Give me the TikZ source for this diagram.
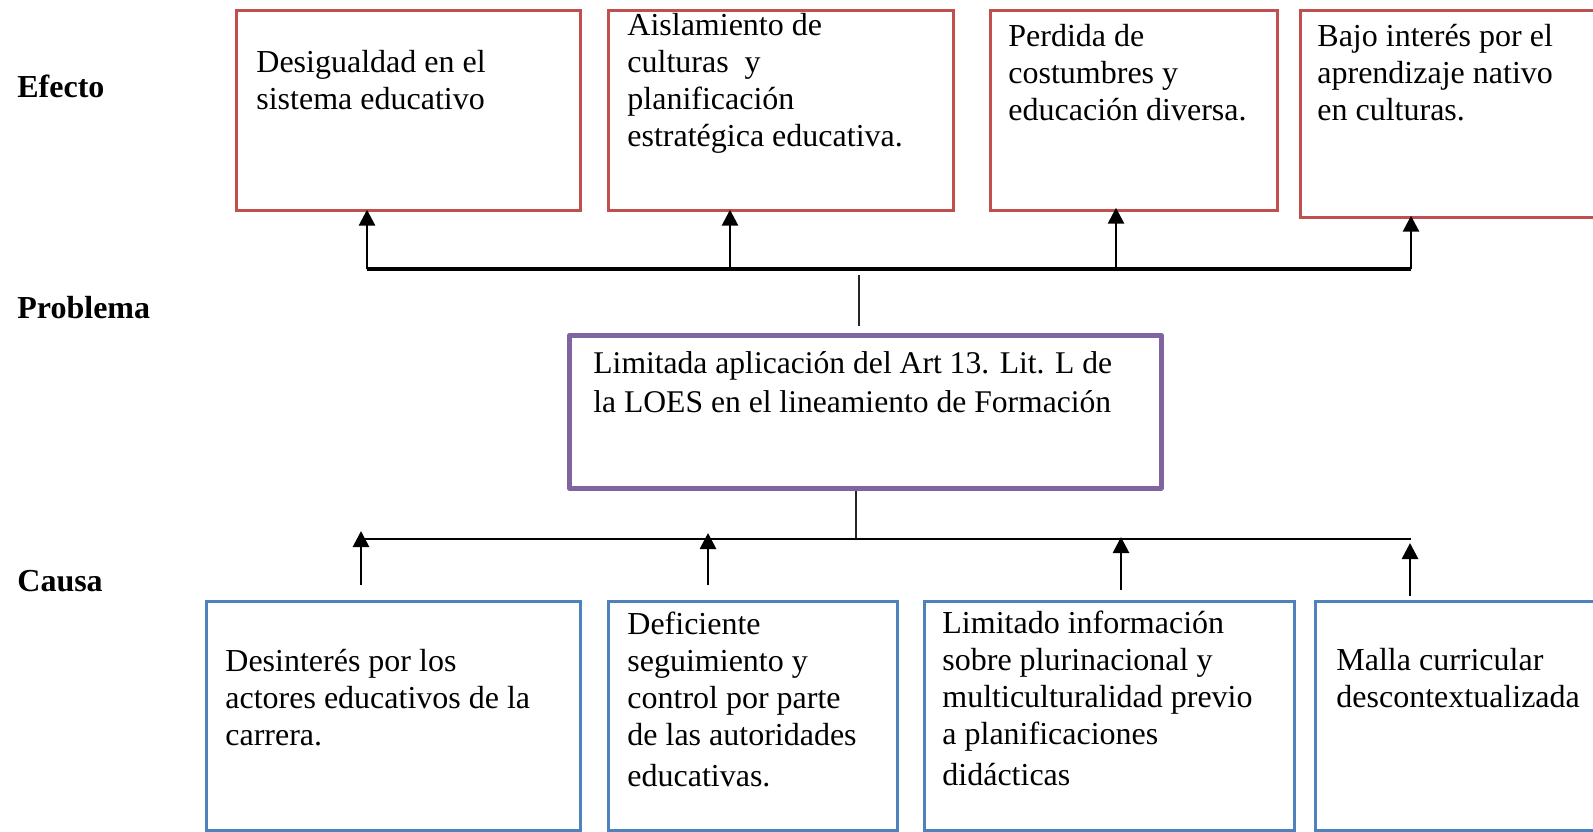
\documentclass[tikz,border=0pt]{standalone}
\usepackage{fontspec}
\setmainfont{Liberation Serif}
\usetikzlibrary{arrows.meta}

\definecolor{rojo}{RGB}{192,80,77}
\definecolor{azul}{RGB}{79,129,189}
\definecolor{morado}{RGB}{128,100,162}

\begin{document}
\begin{tikzpicture}[x=0.5pt, y=-0.5pt,
  every node/.style={font=\fontsize{16}{18.5}\selectfont},
  caja/.style={rectangle, anchor=north west, inner sep=0pt, line width=1.35pt},
  efecto/.style={caja, draw=rojo},
  causa/.style={caja, draw=azul},
  problema/.style={caja, draw=morado, line width=2.3pt, line join=round},
  texto/.style={anchor=base west, align=left, inner sep=0pt},
  etiqueta/.style={anchor=base west, inner sep=0pt, font=\bfseries\fontsize{16}{18.5}\selectfont},
  flecha/.style={-{Triangle[width=8pt,length=8pt]}, line width=1.4pt},
  linea/.style={line width=0.9pt, black!85}]
\useasboundingbox (0,0) rectangle (1593,831);
 % etiquetas
  \node (lef) at (17,97)  [etiqueta] {Efecto};
  \node (lpr) at (17,318) [etiqueta] {Problema};
  \node (lca) at (17,591) [etiqueta] {Causa};
 % efectos (texto anclado en la ultima linea)
  \node (e1) at ( 235,9) [efecto, minimum width=172pt, minimum height=100pt] {};
  \node (e2) at ( 607,9) [efecto, minimum width=172.5pt, minimum height=100pt] {};
  \node (e3) at ( 989,9) [efecto, minimum width=143.5pt, minimum height=100pt] {};
  \node (e4) at (1299,9) [efecto, minimum width=170pt, minimum height=103.5pt] {};
  \node (te1) at ( 256,109) [texto] {Desigualdad en el\\sistema educativo};
  \node (te2) at ( 627,146) [texto] {Aislamiento de\\culturas\ \ y\\planificación\\estratégica educativa.};
  \node (te3) at (1008,120) [texto] {Perdida de\\costumbres y\\educación diversa.};
  \node (te4) at (1317,120) [texto] {Bajo interés por el\\aprendizaje nativo\\en culturas.};
 % problema
  \node (p) at (567,333) [problema, minimum width=296pt, minimum height=76.5pt] {};
  \node (tp) at (593,412) [texto, font=\fontsize{15.8}{19.5}\selectfont] {Limitada aplicación del Art 13. Lit. L de\\la LOES en el lineamiento de Formación};
 % causas
  \node (c1) at ( 205,600) [causa, minimum width=187pt, minimum height=114.5pt] {};
  \node (c2) at ( 607,600) [causa, minimum width=144.5pt, minimum height=114.5pt] {};
  \node (c3) at ( 923,600) [causa, minimum width=185pt, minimum height=114.5pt] {};
  \node (c4) at (1314,600) [causa, minimum width=163pt, minimum height=114.5pt] {};
  \node (tc1) at ( 225,745) [texto] {Desinterés por los\\actores educativos de la\\carrera.};
  \node (tc2) at ( 627,786) [texto] {Deficiente\\seguimiento y\\control por parte\\de las autoridades\\[2pt]educativas.};
  \node (tc3) at ( 942,785) [texto] {Limitado información\\sobre plurinacional y\\multiculturalidad previo\\a planificaciones\\[2pt]didácticas};
  \node (tc4) at (1336,707) [texto] {Malla curricular\\descontextualizada};
 % puntos de las lineas
  \coordinate (t1) at ( 367,269);
  \coordinate (t2) at ( 730,269);
  \coordinate (t3) at (1116,269);
  \coordinate (t4) at (1411,269);
  \coordinate (v1) at ( 859,275);
  \coordinate (v2) at ( 856,539);
  \coordinate (b0) at (1411,539);
  \coordinate (b1) at ( 361,531);
  \coordinate (b2) at ( 708,533);
  \coordinate (b3) at (1121,537);
  \coordinate (b4) at (1410,543);
 % flechas de efecto
  \draw[line width=1.8pt] (t1) -- (t4);
  \draw[flecha, shorten >=-1pt] (t1) -- (t1 |- e1.south);
  \draw[flecha, shorten >=-1pt] (t2) -- (t2 |- e2.south);
  \draw[flecha, shorten >=-2pt] (t3) -- (t3 |- e3.south);
  \draw[flecha, shorten >=-1.5pt] (t4) -- (t4 |- e4.south);
 % uniones del problema
  \draw[linea, shorten >=3.5pt] (v1) -- (v1 |- p.north);
  \draw[linea] (v2 |- p.south) -- (v2);
  \draw[line width=1pt] (b1 |- v2) -- (b0);
 % flechas de causa
  \draw[flecha, shorten <=7.5pt] (b1 |- c1.north) -- (b1);
  \draw[flecha, shorten <=7.5pt] (b2 |- c2.north) -- (b2);
  \draw[flecha, shorten <=5pt] (b3 |- c3.north) -- (b3);
  \draw[flecha, shorten <=2pt] (b4 |- c4.north) -- (b4);
\end{tikzpicture}
\end{document}
